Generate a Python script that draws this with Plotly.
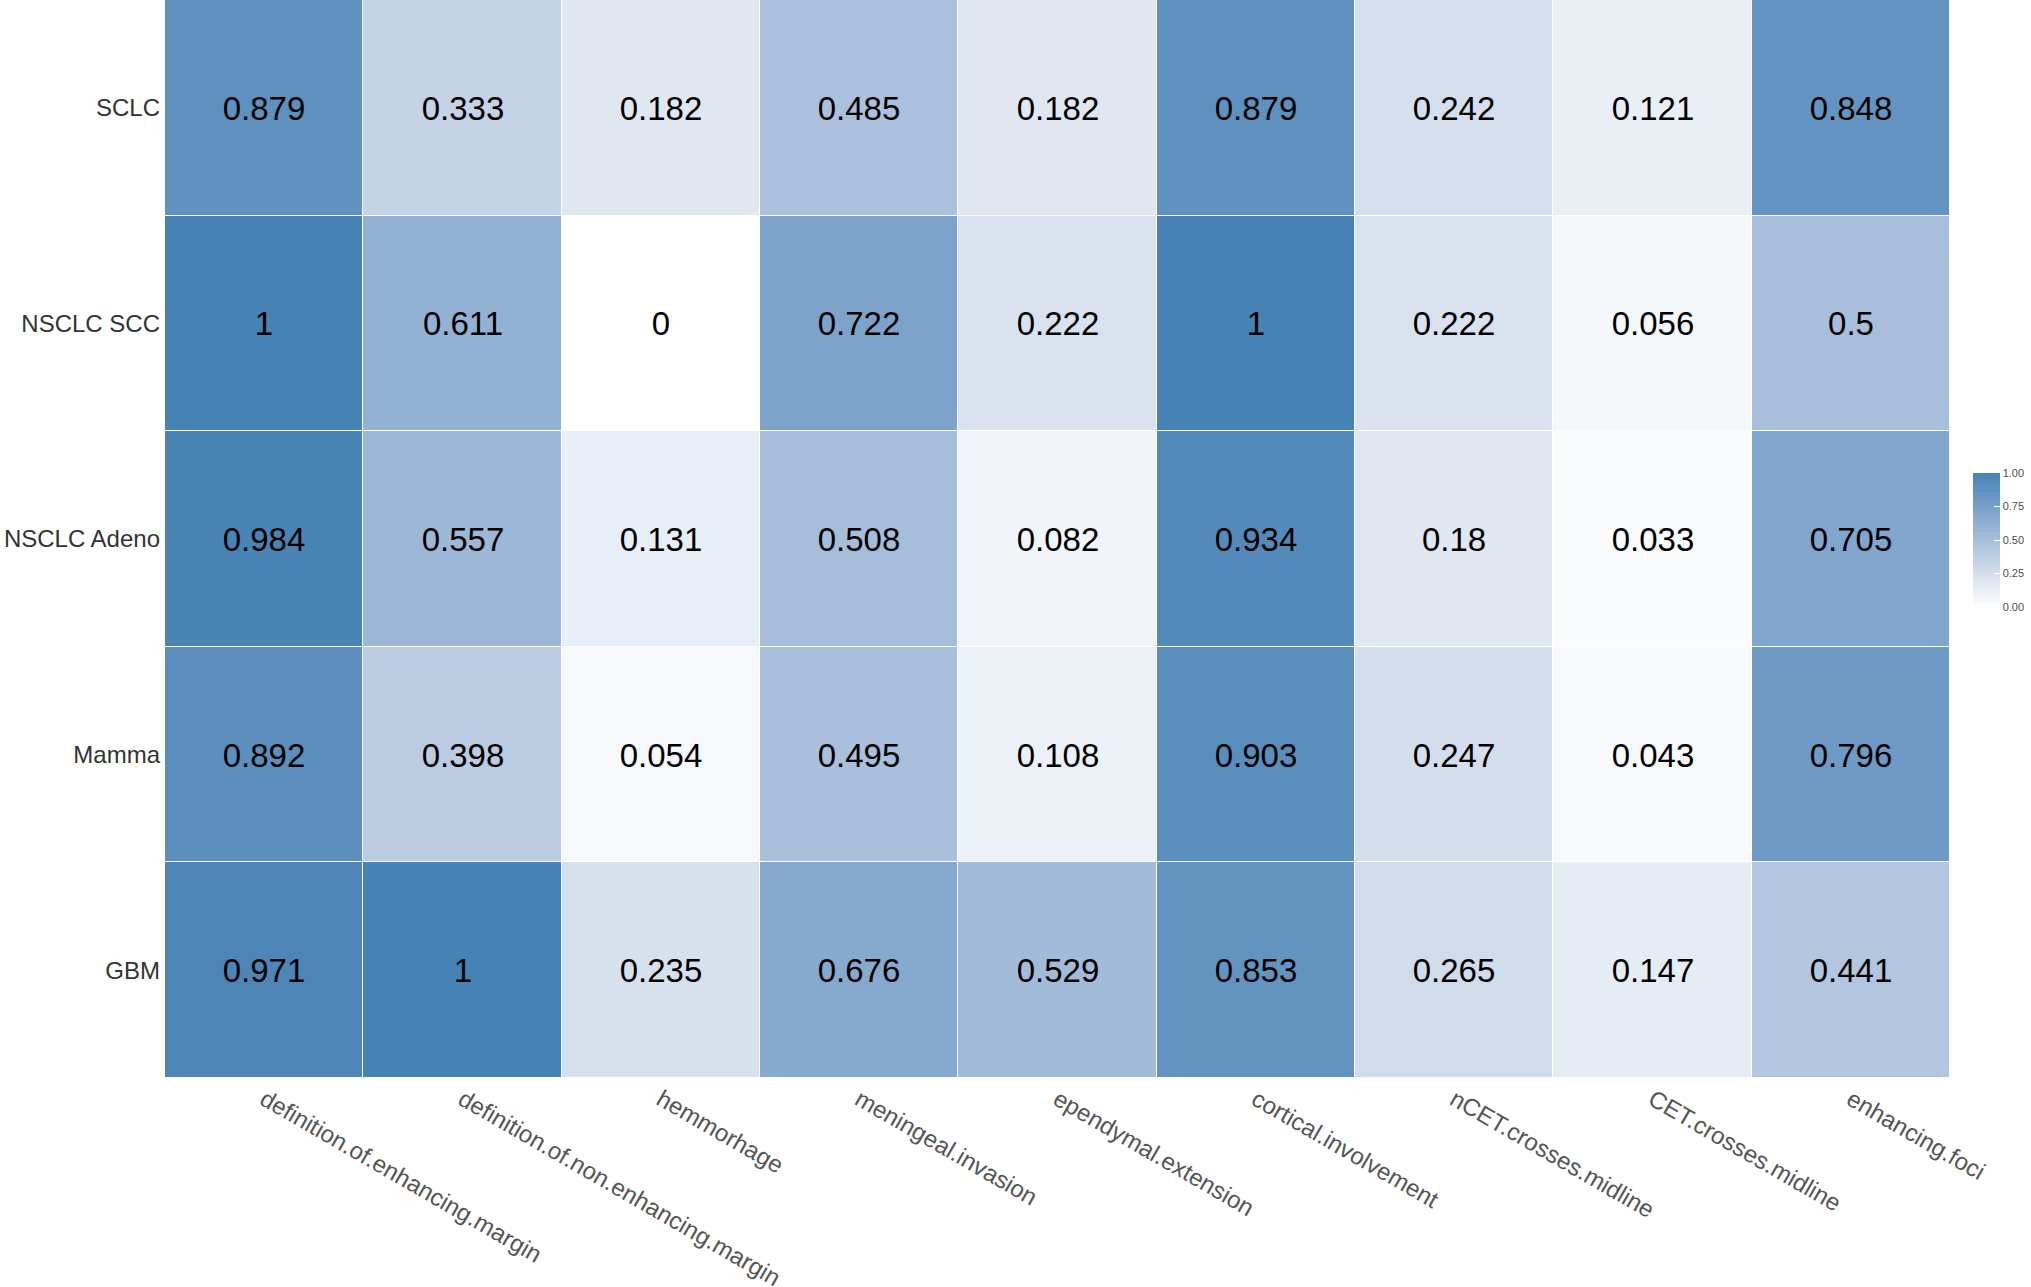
import plotly.graph_objects as go

# features (columns) and tumour types (rows, top to bottom)
features = ['definition.of.enhancing.margin', 'definition.of.non.enhancing.margin',
            'hemmorhage', 'meningeal.invasion', 'ependymal.extension',
            'cortical.involvement', 'nCET.crosses.midline', 'CET.crosses.midline',
            'enhancing.foci']
tumours = ['SCLC', 'NSCLC SCC', 'NSCLC Adeno', 'Mamma', 'GBM']

sclc = [0.879, 0.333, 0.182, 0.485, 0.182, 0.879, 0.242, 0.121, 0.848]
nsclc_scc = [1, 0.611, 0, 0.722, 0.222, 1, 0.222, 0.056, 0.5]
nsclc_adeno = [0.984, 0.557, 0.131, 0.508, 0.082, 0.934, 0.18, 0.033, 0.705]
mamma = [0.892, 0.398, 0.054, 0.495, 0.108, 0.903, 0.247, 0.043, 0.796]
gbm = [0.971, 1, 0.235, 0.676, 0.529, 0.853, 0.265, 0.147, 0.441]

z = [sclc, nsclc_scc, nsclc_adeno, mamma, gbm]
labels = [[f'{v:g}' for v in row] for row in z]

# white -> steelblue, roughly like ggplot's Lab gradient
scale = [[0.0, '#ffffff'], [0.25, '#d4deec'], [0.5, '#a8bedb'],
         [0.75, '#78a0c9'], [1.0, '#4682b4']]

fig = go.Figure(go.Heatmap(
    z=z, x=features, y=tumours,
    text=labels, texttemplate='%{text}',
    textfont=dict(size=33, color='black', family='Liberation Sans, Arial'),
    colorscale=scale, zmin=0, zmax=1,
    xgap=1, ygap=1,
    colorbar=dict(
        x=1.0129, xanchor='left',
        y=0.499, yanchor='middle',
        lenmode='pixels', len=134, thickness=27,
        outlinewidth=0, xpad=0, ypad=0,
        tickvals=[0, 0.25, 0.5, 0.75, 1],
        ticktext=['0.00', '0.25', '0.50', '0.75', '1.00'],
        ticks='inside', ticklen=6, tickcolor='white',
        tickfont=dict(size=11, color='#4d4d4d', family='Liberation Sans, Arial'),
    ),
))

fig.update_layout(
    width=2031, height=1287,
    margin=dict(l=165, r=79, t=0, b=209),
    plot_bgcolor='white', paper_bgcolor='white',
    font=dict(family='Liberation Sans, Arial'),
)
fig.update_xaxes(tickangle=30, showgrid=False, zeroline=False, automargin=False,
                 tickfont=dict(size=24, color='#555555'),
                 ticks='', ticklabelstandoff=2)
fig.update_yaxes(autorange='reversed', showgrid=False, zeroline=False, automargin=False,
                 tickfont=dict(size=24, color='#333333'),
                 ticks='', ticklabelstandoff=4)

# drop the browser's default body margin so the figure sits at the page corner
fig.write_html('out.html', config={'displayModeBar': False},
               post_script="document.body.style.margin='0';")
